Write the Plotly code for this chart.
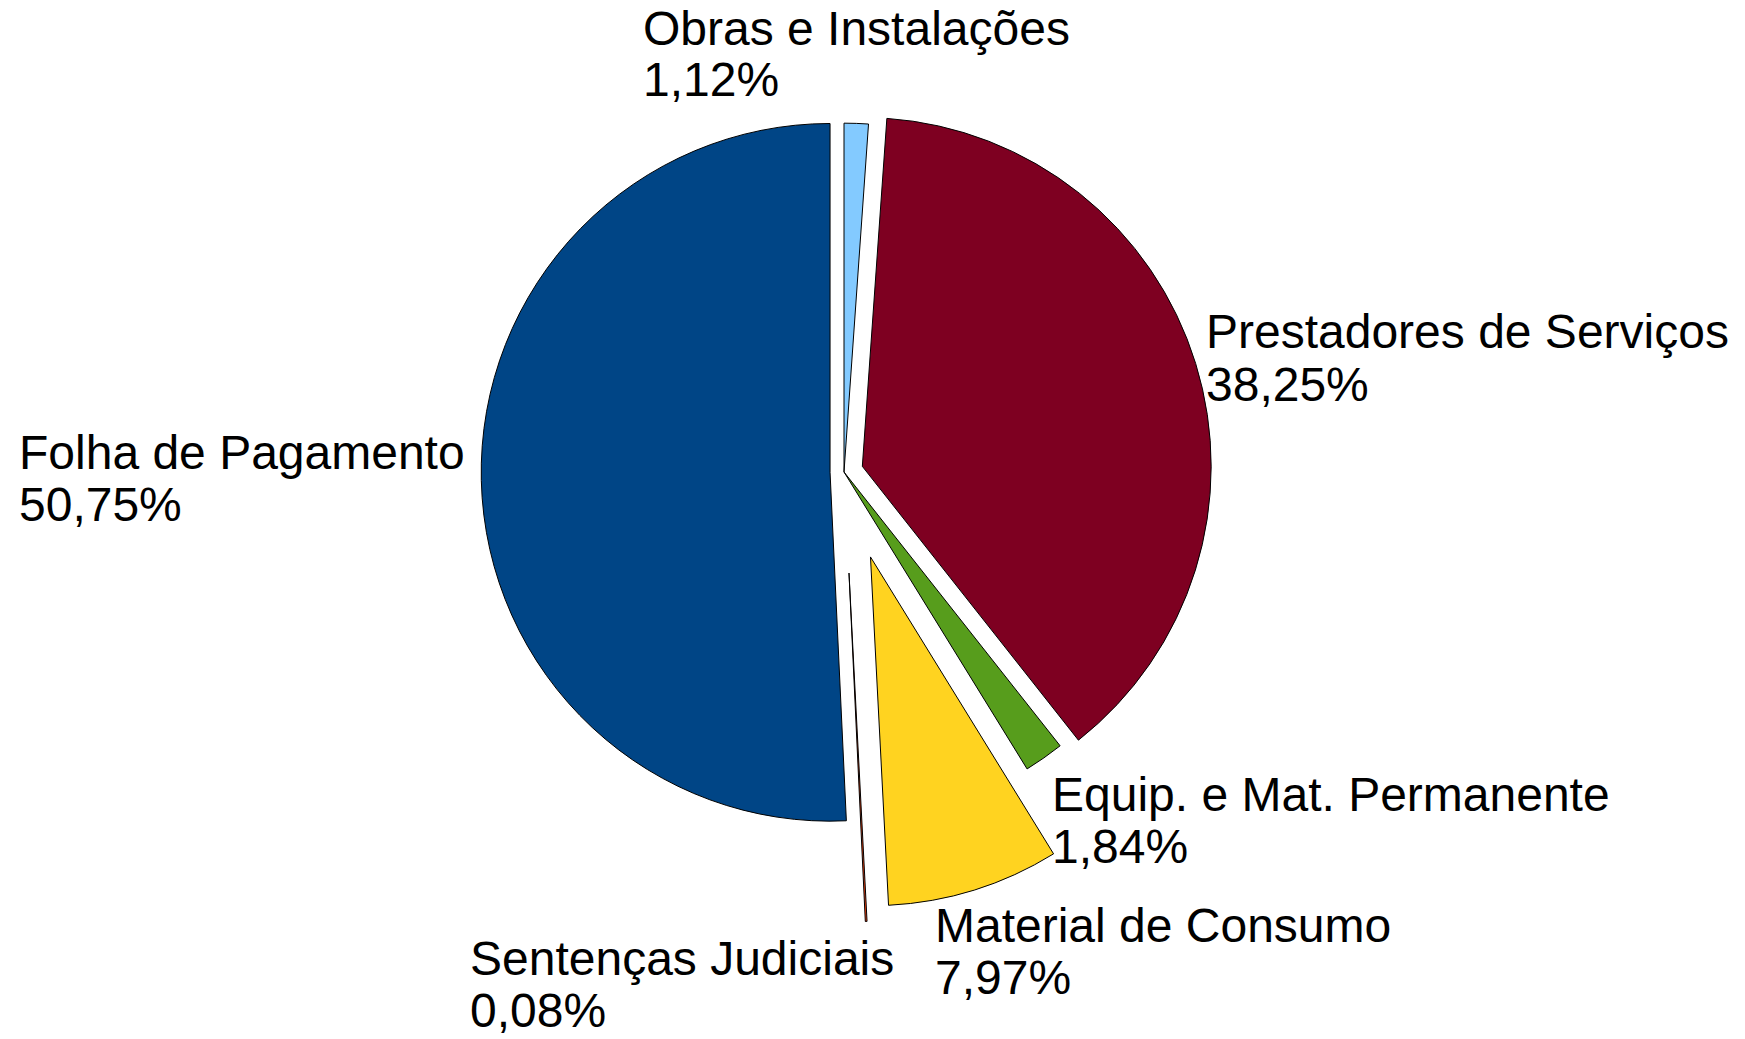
"""
Pie chart of expense categories (exploded slices, labels outside)
"""

import plotly.graph_objects as go

# data, clockwise from 12 o'clock
categories = [
    'Obras e Instalações',
    'Prestadores de Serviços',
    'Equip. e Mat. Permanente',
    'Material de Consumo',
    'Sentenças Judiciais',
    'Folha de Pagamento',
]
shares = [1.12, 38.25, 1.84, 7.97, 0.08, 50.75]

# styling
slice_colors = ['#83caff', '#7e0021', '#579d1c', '#ffd320', '#ff420e', '#004586']
slice_pull = [0.0, 0.055, 0.0, 0.255, 0.29, 0.04]

# label anchor (left x, centre of first line) in pixels, same order as categories
label_pos = [
    (633, 20),     # Obras
    (1196, 324),   # Prestadores
    (1042, 786),   # Equip
    (925, 917),    # Material
    (460, 950),    # Sentencas
    (9, 444),      # Folha
]
LINE_GAP = 52
W, H = 1745, 1039
CX, CY, BOX = 836, 464, 450
FONT = 'Liberation Sans, Arial, sans-serif'

fig = go.Figure()

fig.add_trace(go.Pie(
    labels=categories,
    values=shares,
    sort=False,
    direction='clockwise',
    rotation=0,
    pull=slice_pull,
    marker=dict(colors=slice_colors, line=dict(color='black', width=1)),
    textinfo='none',
    hoverinfo='label+percent',
    showlegend=False,
    domain=dict(x=[(CX - BOX) / W, (CX + BOX) / W],
                y=[1 - (CY + BOX) / H, 1 - (CY - BOX) / H]),
))

# outside labels: name on one line, percentage below
for name, val, (px, py) in zip(categories, shares, label_pos):
    pct = f'{val:.2f}'.replace('.', ',') + '%'
    for i, txt in enumerate([name, pct]):
        fig.add_annotation(
            x=px / W, y=1 - (py + i * LINE_GAP) / H,
            xref='paper', yref='paper',
            xanchor='left', yanchor='middle',
            text=txt, showarrow=False,
            font=dict(family=FONT, size=48, color='black'),
        )

fig.update_layout(
    width=W,
    height=H,
    margin=dict(l=0, r=0, t=0, b=0),
    paper_bgcolor='white',
    plot_bgcolor='white',
)

fig.write_html('out.html')
